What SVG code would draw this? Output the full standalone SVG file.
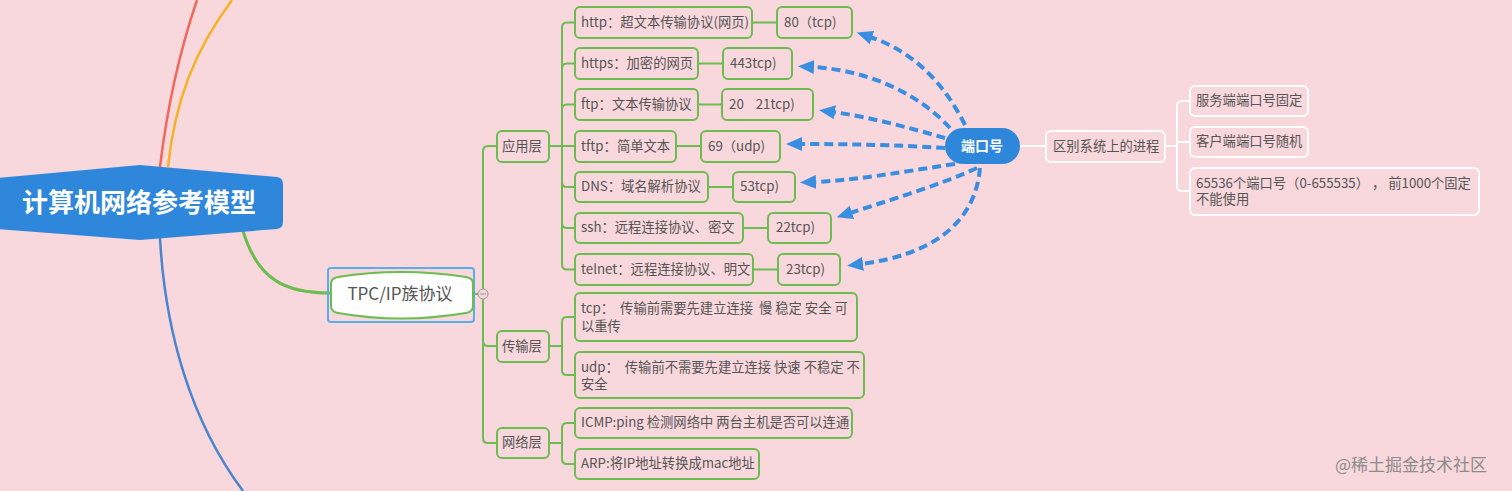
<svg xmlns="http://www.w3.org/2000/svg" width="1512" height="491" viewBox="0 0 1512 491">
<defs>
<style>
text{font-family:"Noto Sans CJK SC","Noto Sans",sans-serif;fill:#555;font-size:13.3px;white-space:pre}
.box{fill:#f8d7dd;stroke:#6cbd4f;stroke-width:2}
.wbox{fill:#f8d7dd;stroke:#ffffff;stroke-width:2}
.ln{fill:none;stroke:#6cbd4f;stroke-width:2}
.wln{fill:none;stroke:#ffffff;stroke-width:2}
.dash{fill:none;stroke:#3a8ee2;stroke-width:4;stroke-dasharray:9 5;marker-end:url(#ah)}
</style>
<marker id="ah" viewBox="0 -8 18 16" refX="2" refY="0" markerWidth="18" markerHeight="16" markerUnits="userSpaceOnUse" orient="auto">
<path d="M0,-7 L16,0 L0,7 Z" fill="#3a8ee2"/>
</marker>
</defs>
<rect width="1512" height="491" fill="#f8d7dd"/>

<g id="connectors">
<path d="M160,167 C168,100 180,50 197,0" fill="none" stroke="#f0695a" stroke-width="2.5"/>
<path d="M168,167 C175,100 195,50 232,0" fill="none" stroke="#f5b324" stroke-width="2.5"/>
<path d="M160,238 C165,330 190,420 243,491" fill="none" stroke="#4a85d0" stroke-width="2.5"/>
<path d="M243,231 C258,280 285,293 330,293" fill="none" stroke="#6cbd4f" stroke-width="3"/>
<path d="M474,294 H478" class="ln"/>
<path d="M483,289 V151 Q483,146 488,146 H497" class="ln"/>
<path d="M483,299 V438 Q483,443 488,443 H497" class="ln"/>
<path d="M483,341 Q483,346 488,346 H497" class="ln"/>
<path d="M549,146 H562 M562,146 V27.5 Q562,22.5 567,22.5 H575 M562,68.5 Q562,63.5 567,63.5 H575 M562,109.5 Q562,104.5 567,104.5 H575 M562,146 H575 M562,182 Q562,187 567,187 H575 M562,223 Q562,228 567,228 H575 M562,146 V264.5 Q562,269.5 567,269.5 H575" class="ln"/>
<path d="M549,346 H562 M562,346 V322 Q562,317 567,317 H575 M562,346 V370 Q562,375 567,375 H575" class="ln"/>
<path d="M549,443 H562 M562,443 V428 Q562,423 567,423 H575 M562,443 V459 Q562,464 567,464 H575" class="ln"/>
<path d="M752,22.5 H777 M698,63.5 H723 M698,104.5 H722 M676,146 H701 M708,187 H733 M743,228 H768 M753,269.5 H778" class="ln"/>
<path d="M1020,146 H1046" class="wln"/>
<path d="M1165,146 H1177 M1177,146 V106 Q1177,101 1182,101 H1190 M1177,142 H1190 M1177,146 V186 Q1177,191 1182,191 H1190" class="wln"/>
<path d="M965,125 C945,85 915,52 870,37" class="dash"/>
<path d="M950,128 C920,95 870,70 812,67" class="dash"/>
<path d="M945,138 C910,128 870,117 833,112" class="dash"/>
<path d="M945,148 C900,145 850,144 800,144" class="dash"/>
<path d="M955,164 C900,172 860,180 814,182" class="dash"/>
<path d="M977,168 C940,185 890,200 850,213" class="dash"/>
<path d="M980,168 C975,225 930,255 861,264" class="dash"/>
</g>

<g id="root">
<path d="M-3,178 L140,165 L277,177 Q283,178 283,184 L283,222 Q283,228 277,229 L140,240 L-3,229 Z" fill="#2f87dc"/>
<text x="139" y="212" text-anchor="middle" style="font-size:26px;font-weight:bold;fill:#fff">计算机网络参考模型</text>
</g>

<g id="tcpip">
<rect x="328" y="268" width="146" height="54" rx="3" fill="none" stroke="#5aaee8" stroke-width="2"/>
<path d="M338,277 Q400,267 466,277 Q473,278 473,284 L473,306 Q473,312 466,313 Q400,324 338,313 Q331,312 331,306 L331,284 Q331,278 338,277 Z" fill="#fff" stroke="#6cbd4f" stroke-width="2"/>
<text x="400" y="300" text-anchor="middle" style="font-size:17px">TPC/IP族协议</text>
<circle cx="483" cy="294" r="5" fill="#f8d7dd" stroke="#999" stroke-width="1"/>
<path d="M480,294 H486" stroke="#999" stroke-width="1"/>
</g>

<g id="yingyong"><rect class="box" x="497" y="131" width="52" height="31" rx="5"/><text x="502" y="151">应用层</text></g>
<g id="http"><rect class="box" x="575" y="7" width="177" height="31" rx="5"/><text x="581" y="27">http：超文本传输协议(网页)</text></g>
<g id="p80"><rect class="box" x="777" y="7" width="75" height="31" rx="5"/><text x="784" y="27">80（tcp)</text></g>
<g id="https"><rect class="box" x="575" y="48" width="123" height="31" rx="5"/><text x="581" y="68">https：加密的网页</text></g>
<g id="p443"><rect class="box" x="723" y="48" width="69" height="31" rx="5"/><text x="730" y="68">443tcp)</text></g>
<g id="ftp"><rect class="box" x="575" y="89" width="123" height="31" rx="5"/><text x="581" y="109">ftp：文本传输协议</text></g>
<g id="p20"><rect class="box" x="722" y="89" width="91" height="31" rx="5"/><text x="729" y="109">20    21tcp)</text></g>
<g id="tftp"><rect class="box" x="575" y="131" width="101" height="31" rx="5"/><text x="581" y="151">tftp：简单文本</text></g>
<g id="p69"><rect class="box" x="701" y="131" width="79" height="31" rx="5"/><text x="708" y="151">69（udp)</text></g>
<g id="dns"><rect class="box" x="575" y="172" width="133" height="30" rx="5"/><text x="581" y="191">DNS：域名解析协议</text></g>
<g id="p53"><rect class="box" x="733" y="172" width="62" height="30" rx="5"/><text x="740" y="191">53tcp)</text></g>
<g id="ssh"><rect class="box" x="575" y="213" width="168" height="30" rx="5"/><text x="581" y="232">ssh：远程连接协议、密文</text></g>
<g id="p22"><rect class="box" x="768" y="213" width="63" height="30" rx="5"/><text x="776" y="232">22tcp)</text></g>
<g id="telnet"><rect class="box" x="575" y="254" width="178" height="31" rx="5"/><text x="581" y="274">telnet：远程连接协议、明文</text></g>
<g id="p23"><rect class="box" x="778" y="254" width="62" height="31" rx="5"/><text x="786" y="274">23tcp)</text></g>

<g id="chuanshu"><rect class="box" x="497" y="331" width="52" height="31" rx="5"/><text x="502" y="351">传输层</text></g>
<g id="tcp"><rect class="box" x="575" y="293" width="282" height="48" rx="5"/><text x="581" y="313">tcp：  传输前需要先建立连接  慢 稳定 安全 可</text><text x="581" y="331">以重传</text></g>
<g id="udp"><rect class="box" x="575" y="352" width="289" height="46" rx="5"/><text x="581" y="372">udp：  传输前不需要先建立连接 快速 不稳定 不</text><text x="581" y="389">安全</text></g>

<g id="wangluo"><rect class="box" x="497" y="428" width="52" height="30" rx="5"/><text x="502" y="447">网络层</text></g>
<g id="icmp"><rect class="box" x="575" y="408" width="277" height="30" rx="5"/><text x="581" y="427">ICMP:ping 检测网络中 两台主机是否可以连通</text></g>
<g id="arp"><rect class="box" x="575" y="449" width="184" height="30" rx="5"/><text x="581" y="468">ARP:将IP地址转换成mac地址</text></g>

<g id="port"><rect x="945" y="128" width="75" height="36" rx="18" fill="#2f87dc"/><text x="982" y="151" text-anchor="middle" style="font-size:14px;font-weight:bold;fill:#fff">端口号</text></g>
<g id="qubie"><rect class="wbox" x="1046" y="131" width="119" height="31" rx="5"/><text x="1053" y="151">区别系统上的进程</text></g>
<g id="fuwu"><rect class="wbox" x="1190" y="86" width="118" height="30" rx="5"/><text x="1196" y="105">服务端端口号固定</text></g>
<g id="kehu"><rect class="wbox" x="1190" y="127" width="118" height="30" rx="5"/><text x="1196" y="146">客户端端口号随机</text></g>
<g id="count"><rect class="wbox" x="1190" y="168" width="289" height="47" rx="5"/><text x="1196" y="188">65536个端口号（0-655535） ， 前1000个固定</text><text x="1196" y="204">不能使用</text></g>

<text x="1335" y="471" style="font-size:17px;fill:#8c8c8c">@稀土掘金技术社区</text>
</svg>
